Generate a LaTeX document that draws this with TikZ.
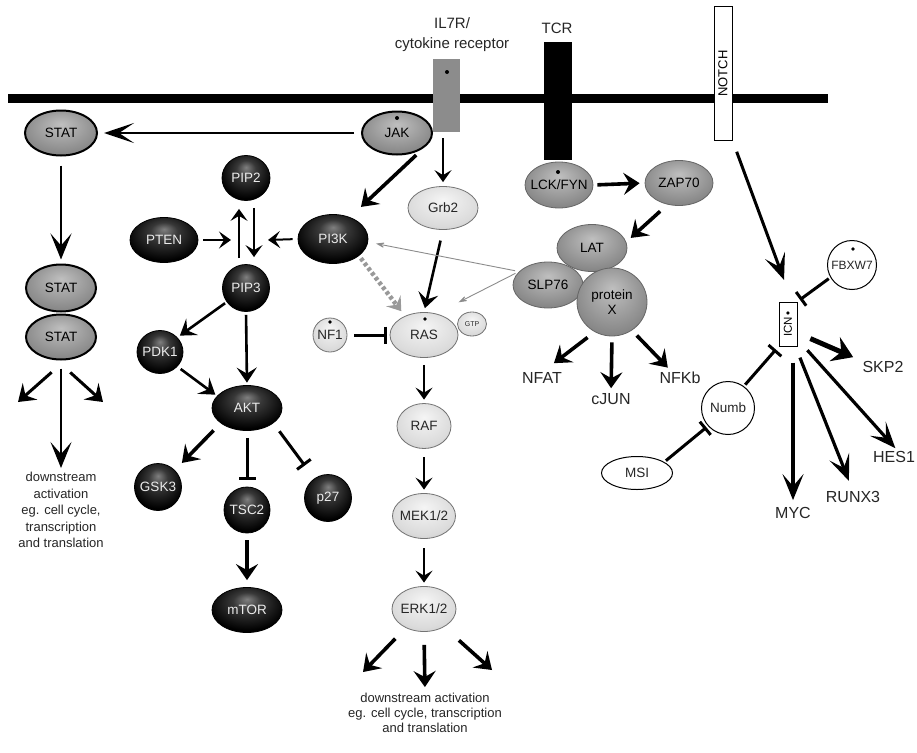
\documentclass[tikz,border=0pt]{standalone}
\usepackage{fontspec}
\setmainfont{Liberation Sans}
\usetikzlibrary{shapes.geometric,arrows.meta}
\pgfdeclareradialshading{darkball}{\pgfpoint{0bp}{12bp}}{color(0bp)=(black!50);color(10bp)=(black!78);color(28bp)=(black);color(50bp)=(black)}
\pgfdeclareradialshading{greyball}{\pgfpoint{0bp}{10bp}}{color(0bp)=(black!25);color(25bp)=(black!45);color(50bp)=(black!65)}
\pgfdeclareradialshading{lightball}{\pgfpoint{0bp}{10bp}}{color(0bp)=(black!4);color(25bp)=(black!14);color(50bp)=(black!32)}
\newcommand{\mytxt}[1]{\makebox[0pt]{#1}}
\begin{document}
\begin{tikzpicture}[x=1pt,y=-1pt,
  base/.style={ellipse, inner sep=0pt, font=\fontsize{13.5}{15}\selectfont},
  dk/.style={base, shading=darkball, draw=black, line width=0.8pt, text=black!8},
  gr/.style={base, shading=greyball, draw=black!60, line width=0.8pt, text=black},
  grk/.style={base, shading=greyball, draw=black, line width=2pt, text=black},
  lt/.style={base, shading=lightball, draw=black!55, line width=0.8pt, text=black!85},
  wh/.style={base, fill=white, draw=black, line width=1pt, text=black!85},
  sz/.style 2 args={minimum width=#1pt, minimum height=#2pt},
  big/.style={inner sep=0pt, font=\fontsize{16}{18}\selectfont, text=black!85},
  ar/.style={line width=2pt, -{Stealth[length=12pt,width=17pt,inset=5pt]}},
  mar/.style={line width=2.6pt, -{Stealth[length=15pt,width=20pt,inset=6pt]}},
  tar/.style={line width=3.6pt, -{Stealth[length=16pt,width=22pt,inset=6pt]}},
  lar/.style={line width=2.8pt, -{Stealth[length=26pt,width=21pt,inset=12pt]}},
  jarr/.style={line width=2.6pt, -{Stealth[length=30pt,width=20pt,inset=15pt]}},
  inh/.style={line width=3pt, -{Bar[width=17pt]}},
  gar/.style={line width=0.9pt, color=black!45, -{Stealth[length=12pt,width=8pt,inset=7pt]}},
  dar/.style={line width=4.5pt, color=black!40, dash pattern=on 3.5pt off 2.5pt, -{Stealth[length=13pt,width=18pt,inset=5pt]}},
  dot/.style={fill=black}
]
\useasboundingbox (0,0) rectangle (917,752);
\fill[white] (0,0) rectangle (917,752);

% membrane
\draw[line width=9pt] (8,98) -- (828,98);

% receptors
\node[rectangle, fill=black!45, minimum width=27pt, minimum height=73pt, inner sep=0pt] (il7r) at (446.5,95.5) {};
\fill[dot] (447,72) circle (2pt);
\node[rectangle, fill=black, minimum width=28pt, minimum height=118pt, inner sep=0pt] (tcr) at (558,101) {};
\node[rectangle, draw=black, fill=white, line width=1pt, rotate=90, minimum width=133pt, minimum height=18pt, inner sep=0pt, font=\fontsize{13}{14}\selectfont] (notch) at (723,73.5) {NOTCH};

\node[align=center, inner sep=0pt, font=\fontsize{15}{20}\selectfont, text=black!85] (il7rlab) at (452,35) {IL7R/\\cytokine receptor};
\node[inner sep=0pt, font=\fontsize{15}{18}\selectfont, text=black!85] (tcrlab) at (557,28) {TCR};

% STAT / JAK
\node[grk, sz={72}{45}] (stat1) at (61,133) {\mytxt{STAT}};
\node[grk, sz={70}{43}] (jak) at (397,133) {\mytxt{JAK}};
\fill[dot] (397,118) circle (2pt);
\node[grk, sz={70}{47}] (stat2) at (61,288) {\mytxt{STAT}};
\node[grk, sz={70}{45}] (stat3) at (61,337) {\mytxt{STAT}};

% RAS pathway
\node[lt, sz={70}{43}] (grb2) at (443,208) {\mytxt{Grb2}};
\node[lt, sz={68}{45}] (ras) at (424,335) {\mytxt{RAS}};
\fill[dot] (425,319) circle (1.8pt);
\node[lt, sz={29}{24}, font=\fontsize{7}{8}\selectfont] (gtp) at (472,324) {\mytxt{GTP}};
\node[lt, sz={34}{34}] (nf1) at (330,335) {\mytxt{NF1}};
\fill[dot] (330,322) circle (1.8pt);
\node[lt, sz={54}{45}] (raf) at (424,426) {\mytxt{RAF}};
\node[lt, sz={63}{45}] (mek) at (424,516) {\mytxt{MEK1/2}};
\node[lt, sz={64}{45}] (erk) at (424,609) {\mytxt{ERK1/2}};

% TCR pathway
\node[gr, sz={68}{46}] (lck) at (559,185) {\mytxt{LCK/FYN}};
\fill[dot] (558,172) circle (2pt);
\node[gr, sz={68}{45}] (zap) at (679,183) {\mytxt{ZAP70}};
\node[gr, sz={70}{47}] (lat) at (592,248) {\mytxt{LAT}};
\node[gr, sz={70}{46}] (slp) at (548,285) {\mytxt{SLP76}};
\node[gr, sz={70}{68}, align=center] (px) at (612,302) {protein\\X};

% PI3K pathway
\node[dk, sz={70}{49}] (pi3k) at (333,239) {\mytxt{PI3K}};
\node[dk, sz={68}{45}] (pten) at (164,240) {\mytxt{PTEN}};
\node[dk, sz={48}{45}] (pip2) at (246,178) {\mytxt{PIP2}};
\node[dk, sz={47}{47}] (pip3) at (246,288) {\mytxt{PIP3}};
\node[dk, sz={46}{43}] (pdk1) at (160,352) {\mytxt{PDK1}};
\node[dk, sz={70}{45}] (akt) at (247,408) {\mytxt{AKT}};
\node[dk, sz={47}{47}] (gsk3) at (158,487) {\mytxt{GSK3}};
\node[dk, sz={46}{46}] (tsc2) at (247,510) {\mytxt{TSC2}};
\node[dk, sz={47}{47}] (p27) at (328,498) {\mytxt{p27}};
\node[dk, sz={70}{45}] (mtor) at (247,610) {\mytxt{mTOR}};

% NOTCH pathway
\node[wh, sz={49}{49}, font=\fontsize{12}{13}\selectfont] (fbxw7) at (852,265) {\mytxt{FBXW7}};
\fill[dot] (853,249) circle (1.8pt);
\node[wh, sz={53}{53}] (numb) at (728,408) {\mytxt{Numb}};
\node[wh, sz={71}{33}] (msi) at (637,473) {\mytxt{MSI}};
\node[rectangle, draw=black, fill=white, line width=1pt, rotate=90, minimum width=44pt, minimum height=18pt, inner sep=0pt, font=\fontsize{11.5}{12}\selectfont] (icn) at (788,324) {ICN\,•};

% labels
\node[big] (nfat) at (542,378) {NFAT};
\node[big] (cjun) at (611,399) {cJUN};
\node[big] (nfkb) at (680,378) {NFKb};
\node[big] (skp2) at (883,367) {SKP2};
\node[big] (myc) at (793,513) {MYC};
\node[big] (runx3) at (853,497) {RUNX3};
\node[big] (hes1) at (894,457) {HES1};
\node[align=center, inner sep=0pt, font=\fontsize{13}{16.5}\selectfont, text=black!85] (dsl) at (61,510) {downstream\\activation\\eg. cell cycle,\\transcription\\and translation};
\node[align=center, inner sep=0pt, font=\fontsize{13}{15}\selectfont, text=black!85] (dsb) at (425,713) {downstream activation\\eg. cell cycle, transcription\\and translation};

% --- connectors ---
\draw[jarr, shorten <=7pt, shorten >=6pt] (jak.west) -- (stat1.east);
\draw[ar, shorten <=6pt, shorten >=4pt] (il7r.south -| grb2.north) -- (grb2.north);
\draw[tar, shorten <=10pt, shorten >=15pt] (jak.-30) -- (pi3k.52);
\draw[mar, shorten <=11pt, shorten >=4pt] (grb2.south) -- (ras.north);
\draw[dar, shorten <=3pt, shorten >=6pt] (pi3k.-33) -- (ras.135);
\draw[gar, shorten <=4pt, shorten >=8pt] (slp.155) -- (pi3k.-5);
\draw[gar, shorten <=4pt, shorten >=25pt] (slp.155) -- (ras.60);
\draw[inh, shorten <=7pt, shorten >=3pt] (nf1.east) -- (ras.west);
\draw[ar, shorten <=7pt, shorten >=3.5pt] (ras.south) -- (raf.north);
\draw[ar, shorten <=8.5pt, shorten >=3.5pt] (raf.south) -- (mek.north);
\draw[ar, shorten <=9.5pt, shorten >=3.5pt] (mek.south) -- (erk.north);
\coordinate (el) at (363,672);
\coordinate (er) at (492,670);
\draw[tar, shorten <=15pt] (erk) -- (el);
\draw[tar, shorten <=20pt] (erk) -- (er);
\draw[tar, shorten <=13pt, shorten >=6pt] (erk.south) -- (dsb.north);

\draw[tar, shorten <=4pt, shorten >=5pt] (lck.east) -- (zap.west);
\draw[tar, shorten <=10pt, shorten >=6pt] (zap.-118) -- (lat.10);
\draw[tar, shorten <=9pt, shorten >=15pt] (px.-120) -- (nfat.north);
\draw[tar, shorten <=6pt, shorten >=5pt] (px.south) -- (cjun.north);
\draw[tar, shorten <=7pt, shorten >=6pt] (px.-55) -- ([xshift=-8pt]nfkb.north);

\draw[lar, shorten <=9pt, shorten >=4pt] (stat1.south) -- (stat2.north);
\coordinate (sl) at (18,402);
\coordinate (sr) at (103,402);
\draw[tar, line width=3pt, shorten <=18pt] (stat3.-80) -- (sl);
\draw[tar, line width=3pt, shorten <=18pt] (stat3.-100) -- (sr);
\draw[lar, shorten <=8pt, shorten >=4pt] (stat3.south) -- (dsl.north);

\coordinate (jl) at (231,240);
\coordinate (jr) at (268,240);
\draw[ar, shorten <=5pt] (pten.east) -- (jl);
\draw[ar, shorten <=5pt] (pi3k.west) -- (jr);
\draw[ar, shorten <=6pt, shorten >=8pt] ([xshift=-7pt]pip3.north) -- ([xshift=-7pt]pip2.south);
\draw[ar, shorten <=7pt, shorten >=7pt] ([xshift=8pt]pip2.south) -- ([xshift=8pt]pip3.north);
\draw[mar, shorten <=3pt, shorten >=2.5pt] (pip3.south) -- (akt.north);
\draw[mar, shorten <=2pt, shorten >=3pt] (pip3.-144) -- (pdk1.40);
\draw[mar, shorten <=4pt, shorten >=2pt] (pdk1.-40) -- (akt.158);
\draw[tar, shorten <=10pt, shorten >=10pt] (akt.-150) -- (gsk3.45);
\draw[inh, shorten <=7pt, shorten >=7pt] (akt.south) -- (tsc2.north);
\draw[inh, shorten <=10pt, shorten >=16pt] (akt.-30) -- (p27.125);
\draw[tar, shorten <=7pt, shorten >=7pt] (tsc2.south) -- (mtor.north);

\draw[lar, line width=3pt, shorten <=12pt, shorten >=23pt] (notch.south west) -- ([xshift=4pt]icn.east);
\draw[inh, shorten <=2pt, shorten >=3pt] (fbxw7.-150) -- (icn.south east);
\draw[inh, shorten <=2pt, shorten >=4pt] (numb.54) -- (icn.north west);
\draw[inh, shorten <=2pt, shorten >=2pt] (msi.22) -- (numb.-138);
\draw[line width=5pt, -{Stealth[length=20pt,width=26pt,inset=7pt]}, shorten <=14pt, shorten >=10pt] ([yshift=-9pt]icn.south) -- (skp2.north west);
\draw[lar, line width=3.2pt, shorten <=16pt, shorten >=7pt] ([xshift=5pt]icn.west) -- (myc.north);
\draw[lar, line width=3.2pt, shorten <=12pt, shorten >=11pt] ([xshift=7.5pt]icn.west) -- (runx3.north);
\draw[lar, line width=3.2pt, shorten <=5pt, shorten >=4pt] ([xshift=16pt]icn.west) -- ([xshift=4pt]hes1.north);
\end{tikzpicture}
\end{document}
